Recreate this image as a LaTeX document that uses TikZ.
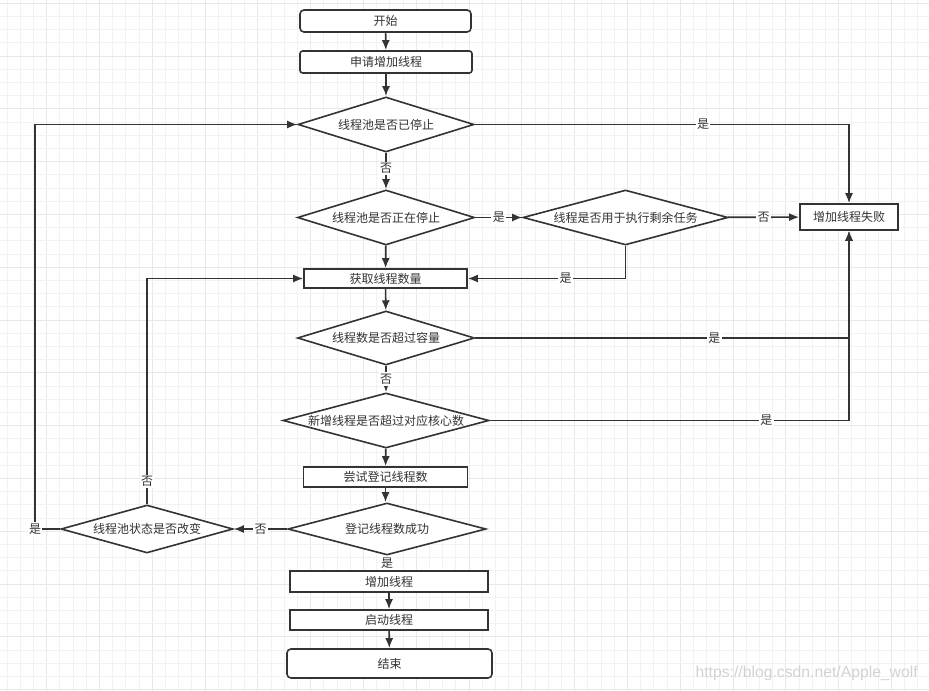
\documentclass[tikz,border=0pt]{standalone}
\usepackage{fontspec}
\newfontfamily\cjk{Noto Sans CJK SC}
\newfontfamily\wmfont{Liberation Sans}
\usetikzlibrary{shapes.geometric,arrows.meta}
\definecolor{ln}{HTML}{333333}
\definecolor{gmn}{HTML}{F2F2F2}
\definecolor{gmj}{HTML}{E8E8E8}
\begin{document}
\begin{tikzpicture}[x=0.75pt,y=-0.75pt,
  every node/.style={font=\cjk\fontsize{9}{11}\selectfont, text=ln},
  bx/.style 2 args={draw=ln, line width=1.2pt, fill=white, rectangle, inner sep=0pt,
    minimum width=#1*0.75pt, minimum height=#2*0.75pt},
  dia/.style 2 args={draw=ln, line width=1.2pt, fill=white, diamond, inner sep=0pt,
    minimum width=#1*0.75pt, minimum height=#2*0.75pt},
  ed/.style={draw=ln, line width=1.25pt, -{Latex[length=7.5pt,width=6pt]}},
  lab/.style={fill=white, inner sep=1pt},
  gmin/.style={draw=gmn, line width=0.75pt},
  gmaj/.style={draw=gmj, line width=0.75pt}]
\useasboundingbox (0,0) rectangle (929,691);
\fill[white] (0,0) rectangle (929,691);
% grid
\foreach \i in {-3,...,66}{
  \pgfmathsetmacro\gx{46.7+13.2*\i}
  \pgfmathtruncatemacro\gm{mod(\i+12,4)}
  \ifnum\gm=0 \draw[gmaj] (\gx,0) -- (\gx,691); \else \draw[gmin] (\gx,0) -- (\gx,691); \fi
}
\foreach \k in {0,...,52}{
  \pgfmathsetmacro\gy{3.3+13.2*\k}
  \pgfmathtruncatemacro\gm{mod(\k,4)}
  \ifnum\gm=0 \draw[gmaj] (0,\gy) -- (929,\gy); \else \draw[gmin] (0,\gy) -- (929,\gy); \fi
}
% nodes
\node[bx={171}{22}, rounded corners=3pt] (start) at (385.5,21) {开始};
\node[bx={172}{22}, rounded corners=2pt] (apply) at (386,62) {申请增加线程};
\node[dia={176}{55}] (d1) at (386,124.5) {\makebox[0pt]{线程池是否已停止}};
\node[dia={177}{55}] (d2) at (386,217.5) {\makebox[0pt]{线程池是否正在停止}};
\node[dia={205}{55}] (d3) at (625.5,217.5) {\makebox[0pt]{线程是否用于执行剩余任务}};
\node[bx={98}{26}] (fail) at (849,217) {增加线程失败};
\node[bx={163}{19}] (get) at (385.5,278.5) {获取线程数量};
\node[dia={177}{54}] (d4) at (386,338) {\makebox[0pt]{线程数是否超过容量}};
\node[dia={206}{55}] (d5) at (386,420.5) {\makebox[0pt]{新增线程是否超过对应核心数}};
\node[bx={164}{20}] (try) at (385.5,477) {尝试登记线程数};
\node[dia={198}{52}] (reg) at (387,529) {\makebox[0pt]{登记线程数成功}};
\node[dia={172}{48}] (chg) at (147,529) {\makebox[0pt]{线程池状态是否改变}};
\node[bx={198}{21}] (add) at (389,581.5) {增加线程};
\node[bx={198}{20}] (run) at (389,620) {启动线程};
\node[bx={205}{29}, rounded corners=3pt] (end) at (389.5,663.5) {结束};
% edges
\draw[ed] (start) -- (apply);
\draw[ed] (apply) -- (d1);
\draw[ed] (d1) -- node[lab,pos=0.42]{否} (d2);
\draw[ed] (d2) -- node[lab]{是} (d3);
\draw[ed] (d3) -- node[lab]{否} (fail);
\draw[ed] (d1.east) -| node[lab,pos=0.305]{是} (fail.north);
\draw[ed] (d2) -- (get);
\draw[ed] (d3.south) |- node[lab,pos=0.69]{是} (get.east);
\draw[ed] (get) -- (d4);
\draw[ed] (d4.east) -| node[lab,pos=0.32]{是} (fail.south);
\draw[ed] (d4) -- node[lab]{否} (d5);
\draw[ed] (d5.east) -| node[lab,pos=0.385]{是} (fail.south);
\draw[ed] (d5) -- (try);
\draw[ed] (try.south) -- (try.south |- reg.north);
\draw[ed] (reg.south) -- node[lab]{是} (reg.south |- add.north);
\draw[ed] (reg) -- node[lab]{否} (chg);
\draw[ed] (add) -- (run);
\draw[ed] (run) -- (end);
\draw[ed] (chg.north) |- node[lab,pos=0.05]{否} (get.west);
\coordinate (lc) at (35,529);
\draw[ed] (chg.west) -- (lc) |- (d1.west);
\node[lab] (yes6) at (lc) {是};
% watermark
\node[font=\wmfont\fontsize{11.8}{13}\selectfont, text=gray!35, anchor=east, inner sep=0pt] (wm) at (918,673) {https://blog.csdn.net/Apple\_wolf};
\end{tikzpicture}
\end{document}
